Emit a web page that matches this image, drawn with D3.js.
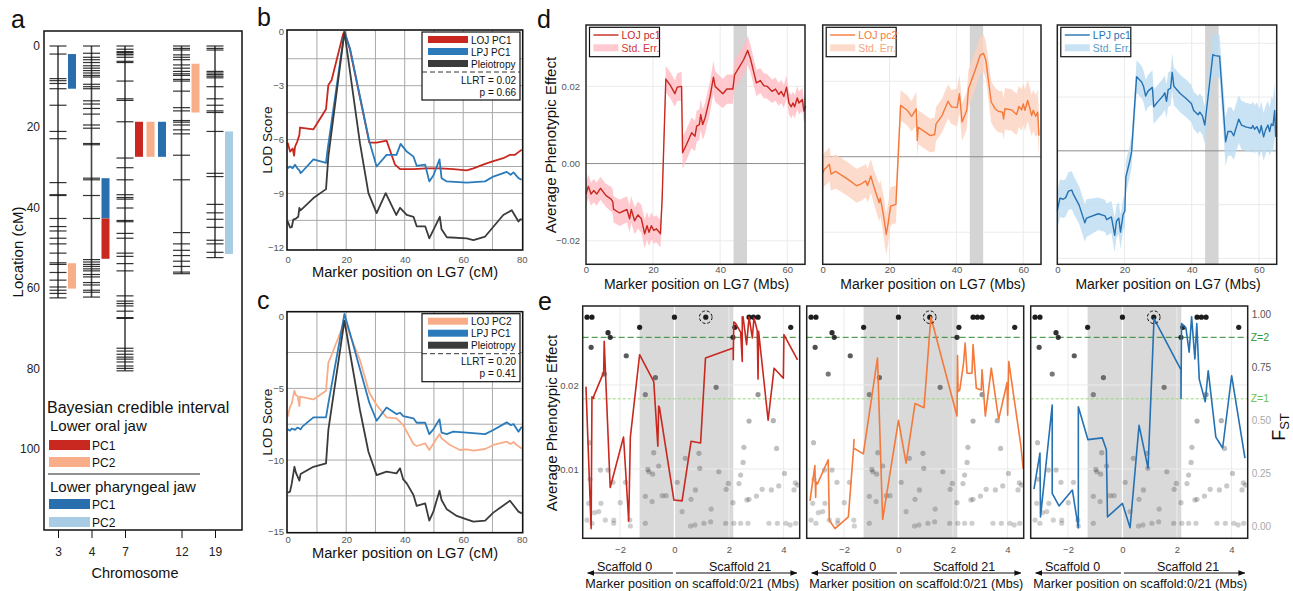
<!DOCTYPE html>
<html>
<head>
<meta charset="utf-8">
<script src="https://cdn.jsdelivr.net/npm/d3@7"></script>
<style>
body { margin: 0; background: #fff; }
</style>
</head>
<body>
<script>
const FONT = "Liberation Sans, Arial, Helvetica, sans-serif";

// ---------- panel a : linkage map ----------
const chromosomes = ["3", "4", "7", "12", "19"];
const markersChr3 = [0,2,8.1,8.6,9.3,10.6,14.7,21.2,23,33.9,36.9,37.1,42.8,44.8,45.9,47.7,49.1,51.4,53.8,54.2,56.2,58.1,59.8,60.6,61.4,62.5];
const markersChr4 = [0,1.8,2.8,3.4,4.1,4.9,5.5,6.1,6.7,7.3,7.7,9.5,10.1,10.6,13.6,14.4,15.5,16.9,19.6,20.4,24.2,24.5,32.8,33.2,37.1,42.8,53,53.6,54.2,54.7,55.3,55.8,56.7,57.3,58.7,59.3,60.6,61.1,62.3];
const markersChr7 = [0,0.8,1.4,1.6,2,2.2,2.8,3.8,4.1,8.7,13.1,13.5,18.8,27.8,30.2,33.2,36.9,37.6,38,40.2,43.3,43.6,46.5,47.7,51.4,52.2,54,55.8,62,63.3,63.9,64.5,65.8,67.4,67.6,75,75.7,76.5,77.2,77.7,78.4,79.4,80,80.6];
const markersChr12 = [0,0.6,1,2.2,2.8,3.4,4.7,5.5,6.3,6.9,7.3,8.3,8.7,11.2,15.3,16.1,18.5,18.9,19.6,20.8,21.8,27.1,33.2,46.3,49.1,50.7,52,53.4,54.7,56.1,56.5];
const markersChr19 = [0,0.6,1,6.3,6.7,7.1,7.5,7.9,10.1,13.1,14.7,16.1,16.5,21.2,31.6,32.4,39.3,41.4,43,45,48.2,49.1,51.2,52.5];
const yTicksA = [0, 20, 40, 60, 80, 100];

const intervalTraits = ["LOJ PC1", "LOJ PC2", "LPJ PC1", "LPJ PC2"];
const intervalColors = ["#c8281f", "#f8ae88", "#2a6fad", "#a8cce3"];
// chromosome, trait, start cM, end cM
const intervals = [
  ["3", "LPJ PC1", 2, 10.6],
  ["3", "LOJ PC2", 53.9, 60.2],
  ["4", "LPJ PC1", 32.8, 42.8],
  ["4", "LOJ PC1", 42.8, 52.8],
  ["7", "LOJ PC1", 18.8, 27.5],
  ["7", "LOJ PC2", 18.8, 27.5],
  ["7", "LPJ PC1", 18.8, 27.5],
  ["12", "LOJ PC2", 4.4, 16.5],
  ["19", "LPJ PC2", 21.2, 51.6]
];

// ---------- panels b, c : LOD profiles ----------
const lodB_lojPC1 = [[0,-6.17],[0.8,-6.67],[1.7,-6.5],[2.2,-6.9],[2.5,-6.4],[3.3,-6.1],[4,-5.74],[4.2,-5.33],[8.8,-5.43],[13.1,-4.31],[13.9,-2.96],[15,-2.7],[19,-0.1],[19.4,0],[21.3,-1],[27.9,-6.17],[30.4,-6.17],[33.8,-6.06],[36.7,-7.4],[38.4,-7.65],[43,-7.65],[47.5,-7.6],[52,-7.6],[56.6,-7.65],[61.2,-7.72],[63.5,-7.6],[67.5,-7.35],[70.3,-7.2],[73.7,-7.04],[76,-6.85],[77.7,-6.85],[78.9,-6.7],[80,-6.57]];
const lodB_lpjPC1 = [[0,-7.6],[0.8,-7.5],[1.7,-7.6],[2.5,-7.4],[3.3,-7.6],[4,-7.72],[4.4,-7.87],[5,-7.78],[8.8,-7.1],[13.1,-7.3],[13.6,-6.6],[19.4,0],[21.3,-0.93],[27.9,-6.1],[30.4,-7.5],[33.8,-6.85],[37.2,-6.85],[38.6,-6.24],[40.7,-6.67],[43,-6.95],[44.1,-7.46],[47,-7.4],[48.4,-8.33],[49.8,-8],[51.9,-7.1],[52.6,-8.15],[54.4,-8.33],[61.2,-8.4],[67.5,-8.33],[70.3,-8.06],[74.9,-7.8],[76.2,-7.96],[77.2,-7.83],[78.9,-8.15],[80,-8.24]];
const lodB_pleio = [[0,-10.56],[0.8,-10.9],[1.4,-10.87],[1.9,-10.46],[2.8,-10.4],[3.6,-10.3],[4,-9.8],[4.4,-9.94],[8.8,-9.26],[13.1,-8.76],[13.9,-6.94],[19.4,0],[24.7,-6.2],[27.6,-8.98],[30.4,-10.1],[33.5,-8.98],[37.1,-10.2],[38.4,-9.8],[40.7,-10.2],[43,-10.3],[44.1,-10.83],[47,-10.83],[48.4,-11.5],[52,-10.3],[52.6,-11],[54.4,-11.44],[61.2,-11.5],[63.5,-11.6],[67.5,-11.4],[73.7,-10.2],[76.6,-9.94],[78.9,-10.56],[79.5,-10.45],[80,-10.43]];
const lodC_lojPC2 = [[0,-6.98],[0.8,-6.28],[1.4,-6.05],[2.3,-5.16],[2.8,-5.47],[3.4,-5.53],[4,-6.23],[4.2,-5.58],[8.8,-5.77],[13.1,-5.16],[13.9,-3.2],[15,-2.67],[19,-0.58],[19.7,-0.35],[21.3,-1.28],[24.7,-3.02],[27.9,-5.3],[30.4,-6.16],[33.8,-7.02],[37.2,-7.09],[39.5,-7.56],[43,-8.88],[44.1,-9.02],[47,-8.84],[48.4,-9.3],[51.9,-8.19],[52.6,-8.49],[55.5,-8.95],[58.9,-9.3],[61.2,-9.26],[63.5,-9.35],[67.5,-9.23],[70.3,-8.95],[74.9,-8.72],[76.2,-8.88],[77.2,-8.74],[78.3,-8.95],[80,-9.19]];
const lodC_lpjPC1 = [[0,-7.86],[0.8,-7.95],[1.4,-7.8],[2.5,-7.9],[3.3,-7.74],[4,-7.8],[4.4,-7.86],[5,-7.67],[8.8,-7.02],[13.1,-7.02],[13.9,-6.05],[19.4,0.19],[21.3,-1.16],[27.9,-6],[30.4,-7.26],[33.8,-6.33],[37.2,-6.79],[38.4,-6.7],[39.5,-6.93],[43,-7.09],[44.1,-7.4],[47,-7.4],[48.4,-8.19],[49.8,-7.86],[51.9,-7.16],[52.6,-8.09],[54.4,-8.19],[56.6,-8.02],[61.2,-8.09],[67.5,-8.19],[70.3,-7.9],[74.9,-7.37],[76.2,-7.56],[77.2,-7.49],[78.9,-8.02],[80,-7.67]];
const lodC_pleio = [[0,-12.28],[0.8,-12.2],[1.4,-11.63],[2.3,-10.47],[2.8,-10.88],[4,-11.44],[4.4,-10.98],[8.8,-10.47],[13.1,-10.23],[13.9,-7.9],[19.4,-0.28],[24.7,-6.51],[27.6,-9.42],[30.4,-11.05],[33.8,-10.81],[37.2,-10.93],[38.4,-10.58],[39.5,-11.35],[40.7,-11.63],[43,-12.44],[44.1,-13.2],[47,-13.02],[48.4,-14.23],[49.8,-13.6],[51.9,-12.14],[52.6,-12.79],[54.4,-13.44],[57.8,-13.9],[61.2,-14.14],[63.5,-14.3],[67.5,-14.23],[70.3,-13.67],[76,-12.84],[78.9,-13.6],[80,-13.72]];
const statsB = ["LLRT = 0.02", "p = 0.66"];
const statsC = ["LLRT = 0.20", "p = 0.41"];

// ---------- panel d : average phenotypic effect along LG7 [Mb, mean, se] ----------
const effLojPc1 = [[0,-0.0079,0.0032],[0.7,-0.0059,0.003],[1.5,-0.0079,0.003],[2.3,-0.007,0.003],[3.2,-0.0079,0.003],[4.3,-0.0064,0.003],[6,-0.0083,0.003],[7.5,-0.0092,0.0032],[8,-0.0099,0.0032],[8.2,-0.0118,0.0034],[10,-0.0128,0.0034],[12.2,-0.0119,0.0034],[13,-0.0143,0.0035],[13.5,-0.0119,0.0035],[14.5,-0.0148,0.0035],[15.5,-0.0133,0.0035],[16.5,-0.0143,0.0036],[17.5,-0.0182,0.0038],[18.2,-0.0161,0.0036],[18.8,-0.0178,0.0036],[19.5,-0.0161,0.0035],[20.2,-0.0173,0.0035],[21,-0.0169,0.0035],[22.2,-0.0182,0.0035],[22.7,-0.0092,0.0036],[23.8,0.0219,0.0034],[25.2,0.0202,0.0034],[26.5,0.0181,0.0034],[27.2,0.0198,0.0036],[28.5,0.02,0.0038],[28.8,0.0028,0.0042],[30,0.005,0.004],[31.5,0.008,0.004],[32.5,0.0071,0.004],[33,0.0097,0.004],[33.8,0.0101,0.004],[34.2,0.0127,0.004],[34.8,0.0101,0.004],[35.5,0.0118,0.004],[37,0.0174,0.0042],[38,0.0224,0.0042],[38.5,0.02,0.004],[40.8,0.0181,0.0038],[42,0.0193,0.0038],[43.8,0.0193,0.0038],[44.3,0.023,0.0038],[47,0.0269,0.0038],[48.2,0.0293,0.0038],[49,0.0273,0.0036],[50.8,0.0209,0.0034],[52,0.0215,0.0032],[53,0.0202,0.0032],[54,0.02,0.0032],[55.5,0.0187,0.003],[56.5,0.0193,0.003],[57.5,0.0179,0.003],[58.2,0.0187,0.003],[59,0.0174,0.003],[59.8,0.0198,0.003],[60.5,0.0157,0.003],[61.2,0.0147,0.003],[61.7,0.0157,0.003],[62.2,0.0147,0.003],[63,0.017,0.003],[63.5,0.0157,0.003],[64.5,0.0166,0.003],[65,0.0136,0.003],[65.5,0.0149,0.003]];
const effLojPc2 = [[0,-0.0044,0.0045],[0.5,-0.0033,0.0045],[1.2,-0.0028,0.0045],[2,-0.002,0.0045],[2.5,-0.0046,0.0045],[3.8,-0.0039,0.0045],[5.5,-0.0048,0.0045],[7.9,-0.0062,0.0045],[10.1,-0.0077,0.0045],[11.7,-0.0071,0.0045],[12.9,-0.0064,0.0045],[13.4,-0.0076,0.0045],[13.9,-0.0064,0.0045],[14.4,-0.0051,0.0045],[15.4,-0.0082,0.0045],[16.9,-0.0122,0.005],[17.2,-0.011,0.005],[17.7,-0.0131,0.005],[18.3,-0.0162,0.0055],[19,-0.0206,0.0055],[19.6,-0.0175,0.0055],[20.3,-0.0131,0.005],[21.9,-0.0126,0.005],[23.3,0.0136,0.004],[25.3,0.0123,0.004],[26.6,0.0107,0.004],[28,0.0127,0.0045],[28.3,0.0043,0.0045],[28.6,0.0078,0.0045],[30.7,0.0065,0.0045],[32.2,0.0056,0.0045],[33.5,0.0059,0.0045],[33.9,0.0087,0.0045],[35.7,0.0109,0.0045],[37.5,0.0147,0.0045],[38.5,0.0132,0.0045],[40.2,0.013,0.005],[40.9,0.0167,0.005],[41.7,0.0092,0.005],[43.1,0.0123,0.005],[43.6,0.018,0.005],[45.6,0.0229,0.005],[47.1,0.0269,0.005],[48.1,0.0274,0.005],[48.8,0.0256,0.005],[50.4,0.0145,0.0055],[51.6,0.0127,0.0055],[52.6,0.012,0.0055],[53.8,0.0118,0.0055],[54.1,0.01,0.0055],[54.5,0.0127,0.0055],[56.5,0.0124,0.0055],[58,0.0112,0.0055],[58.7,0.0133,0.0055],[59.5,0.0124,0.0055],[60,0.014,0.0055],[60.5,0.0123,0.0055],[61.3,0.0149,0.0055],[62,0.0127,0.0055],[62.5,0.0109,0.0055],[63,0.0123,0.0055],[63.7,0.0107,0.0055],[64.3,0.0118,0.006],[64.7,0.0056,0.006]];
const effLpjPc1 = [[0,-0.0111,0.0035],[0.8,-0.0088,0.0035],[1.8,-0.009,0.0035],[2.5,-0.0087,0.0035],[3.3,-0.0075,0.0035],[4.3,-0.0073,0.0035],[4.8,-0.0081,0.0035],[6.5,-0.0101,0.0035],[8.2,-0.0134,0.0035],[8.7,-0.0125,0.0035],[12.2,-0.0117,0.003],[14.2,-0.0121,0.003],[14.7,-0.0128,0.003],[16.1,-0.0123,0.003],[17.1,-0.0157,0.0032],[17.6,-0.0131,0.003],[18.3,-0.0125,0.003],[18.8,-0.0151,0.0032],[19.6,-0.0118,0.003],[20.1,-0.0112,0.003],[20.4,-0.0049,0.003],[21.6,-0.0018,0.003],[22.1,-0.0002,0.003],[23.6,0.0138,0.003],[25.1,0.0128,0.003],[25.7,0.0119,0.003],[26.3,0.0102,0.003],[27,0.0111,0.003],[28.3,0.0118,0.0032],[28.7,0.0082,0.0032],[30,0.0092,0.0032],[31.3,0.0101,0.0032],[32,0.0108,0.0032],[32.5,0.0092,0.0032],[33,0.0114,0.0032],[33.7,0.0116,0.0032],[34.2,0.0146,0.0035],[34.7,0.012,0.0035],[36.5,0.0107,0.0035],[38.4,0.0097,0.0035],[39.9,0.0088,0.0035],[40.6,0.0075,0.0035],[41.9,0.0067,0.0035],[42.4,0.0072,0.0035],[43.2,0.0065,0.0035],[43.9,0.0048,0.0035],[46.3,0.0179,0.004],[47,0.0177,0.004],[48.3,0.0176,0.004],[49,0.0114,0.004],[50.1,0.0017,0.0045],[50.8,0.0036,0.0045],[51.8,0.0036,0.0045],[52.5,0.0028,0.0045],[54,0.0059,0.0045],[54.8,0.0048,0.0045],[56.3,0.0044,0.0045],[57.8,0.0042,0.0045],[58.2,0.0047,0.0045],[58.7,0.004,0.0045],[59.4,0.0045,0.0045],[60.2,0.0033,0.0045],[60.7,0.0047,0.0045],[61.4,0.0026,0.0045],[62,0.0039,0.0045],[62.7,0.0048,0.0045],[63.2,0.0036,0.0045],[63.7,0.005,0.005],[64.2,0.0047,0.005],[64.7,0.0075,0.005],[65,0.0026,0.005]];
const qtlWindowMb = [44, 48];

// ---------- panel e : scaffold 0/21 [Mb, effect] and FST points [Mb, fst] ----------
const scafLojPc1 = [[-3.25,0.0198],[-3.06,0.0029],[-3.03,0.0186],[-2.97,0.0184],[-2.96,0.0187],[-2.6,0.0215],[-2.58,0.0252],[-2.36,0.0078],[-1.87,0.0138],[-1.68,0.0038],[-1.62,0.0138],[-1.28,0.0236],[-0.76,0.0204],[-0.61,0.0127],[-0.58,0.0175],[-0.55,0.0173],[-0.02,0.0063],[0.28,0.0062],[0.61,0.0133],[0.96,0.0131],[1.14,0.0232],[2.16,0.0244],[2.16,0.023],[2.18,0.0275],[2.25,0.0273],[2.43,0.0263],[2.49,0.0228],[2.49,0.0281],[2.52,0.0281],[2.65,0.0248],[2.74,0.0281],[2.86,0.0256],[2.92,0.028],[3.04,0.0265],[3.07,0.0207],[3.09,0.0264],[3.44,0.0158],[3.66,0.022],[4,0.0208],[4.02,0.026],[4.52,0.023]];
const scafLojPc2 = [[-3.25,0.0062],[-3.07,0.0104],[-3.04,0.0066],[-3.03,0.0085],[-2.98,0.0082],[-2.58,0.0111],[-2.54,0.0039],[-2.33,0.0029],[-1.84,0.0043],[-1.66,0.0119],[-1.63,0.0135],[-1.65,0.0125],[-1.29,0.0118],[-0.77,0.0232],[-0.58,0.004],[0,0.0158],[0.28,0.0107],[0.61,0.0178],[0.94,0.0173],[1.19,0.0281],[2.15,0.0163],[2.17,0.0235],[2.19,0.0192],[2.25,0.0194],[2.39,0.0226],[2.45,0.025],[2.52,0.0214],[2.7,0.0214],[2.74,0.0248],[2.86,0.0196],[3.04,0.0194],[3.07,0.0218],[3.19,0.0163],[3.41,0.022],[3.68,0.0159],[3.99,0.0203],[4.01,0.0164],[4.05,0.0228],[4.5,0.0127],[4.58,0.01]];
const scafLpjPc1 = [[-3.25,0.0076],[-3.03,0.0119],[-3.01,0.0043],[-2.58,0.0176],[-2.58,0.0071],[-2.33,0.0056],[-1.84,0.0075],[-1.62,0.003],[-1.62,0.0174],[-1.27,0.0135],[-0.74,0.0137],[-0.59,0.0123],[-0.55,0.0043],[0,0.0059],[0.28,0.003],[0.61,0.0152],[0.94,0.0101],[1.16,0.0279],[2.15,0.0218],[2.15,0.0184],[2.17,0.0273],[2.33,0.0268],[2.45,0.0239],[2.54,0.0281],[2.66,0.0231],[2.73,0.0273],[2.82,0.0207],[3.04,0.018],[3.15,0.0217],[3.43,0.0138],[3.68,0.0125],[4.01,0.0211],[4.5,0.0113]];
const fstPoints = [[-3.21,0.985],[-3.03,0.985],[0,0.985],[1.15,0.985],[2.74,0.985],[2.9,0.985],[3.07,0.985],[-1.28,0.937],[2.22,0.937],[4.27,0.937],[-2.44,0.912],[-2.36,0.89],[2.15,0.89],[-3.06,0.843],[-1.77,0.803],[-2.58,0.717],[-0.7,0.7],[1.53,0.654],[-1.07,0.62],[3.07,0.62],[2.74,0.495],[3.63,0.497],[-3.12,0.393],[2.55,0.371],[3.75,0.366],[-0.76,0.346],[0.9,0.343],[0.4,0.319],[2.52,0.3],[-0.58,0.283],[0.93,0.272],[-0.98,0.267],[-2.72,0.264],[-2.44,0.264],[-0.94,0.256],[1.63,0.256],[4.04,0.248],[-0.8,0.245],[2.43,0.24],[-3.1,0.22],[-2.26,0.206],[-1.8,0.206],[0.1,0.206],[4.44,0.204],[1.98,0.201],[2.37,0.2],[4.52,0.193],[3.83,0.189],[1.9,0.173],[3.22,0.173],[0.77,0.17],[3.56,0.17],[4.39,0.17],[-0.45,0.143],[-0.31,0.143],[3.01,0.141],[-1.07,0.14],[0.61,0.126],[2.74,0.126],[2.66,0.123],[-0.82,0.115],[2.15,0.11],[-1.99,0.11],[-3.15,0.107],[-2.7,0.107],[1.35,0.08],[-2.78,0.068],[0.28,0.068],[-2.94,0.063],[-3.21,0.028],[-2.54,0.028],[-2.23,0.028],[-1.64,0.028],[1.33,0.02],[-3.03,0.013],[-2.23,0.013],[-1.07,0.013],[1.08,0.013],[1.88,0.013],[2.18,0.013],[2.43,0.013],[2.7,0.013],[3.47,0.013],[3.78,0.013],[4.09,0.013],[4.45,0.013],[-1.62,0],[0.59,0],[0.75,0.005],[4.25,0.005]];
const topMarkerMb = 1.15;
const scaffoldBandMb = [-1.28, 2.16];
const zThresholds = [["Z=2", 0.89], ["Z=1", 0.6]];
const fstTicks = [0, 0.25, 0.5, 0.75, 1];

const svg = d3.select("body").append("svg")
  .attr("width", 1293).attr("height", 591)
  .attr("font-family", FONT);

function txt(g, x, y, s, o = {}) {
  const t = g.append("text").attr("x", x).attr("y", y).text(s)
    .attr("font-size", o.size || 12)
    .attr("fill", o.fill || "#111")
    .attr("text-anchor", o.anchor || "start");
  if (o.rotate) t.attr("transform", `rotate(-90,${x},${y})`);
  return t;
}

function styleAxis(a, size, color) {
  a.attr("font-family", FONT).attr("font-size", size);
  a.select(".domain").remove();
  a.selectAll("text").attr("fill", color);
  a.selectAll(".tick line").attr("stroke", color);
}

// panel letters
txt(svg, 11, 28, "a", {size: 25});
txt(svg, 257, 26, "b", {size: 25});
txt(svg, 257, 309, "c", {size: 25});
txt(svg, 537, 28, "d", {size: 25});
txt(svg, 538, 310, "e", {size: 25});

///////////////////////////// panel a
function drawPanelA() {
  const g = svg.append("g");
  const markerSets = [markersChr3, markersChr4, markersChr7, markersChr12, markersChr19];
  const yA = d3.scaleLinear().domain([0, 100]).range([46, 449]);

  // slot of each interval next to its chromosome
  const slotOf = intervals.map((iv, i) => intervals.slice(0, i)
    .filter(o => o[0] === iv[0] && o[2] < iv[3] && o[3] > iv[2]).length);
  let cx = 58;
  const chrPos = [];
  chromosomes.forEach(c => {
    chrPos.push(cx);
    const n = d3.max(intervals.map((iv, i) => iv[0] === c ? slotOf[i] + 1 : 1));
    cx += 22 + 11.5 * n;
  });
  const xA = d3.scaleOrdinal().domain(chromosomes).range(chrPos);

  g.append("rect").attr("x", 44).attr("y", 31).attr("width", 198).attr("height", 499)
    .attr("fill", "none").attr("stroke", "#111").attr("stroke-width", 1.5);

  chromosomes.forEach((c, i) => {
    const m = markerSets[i];
    g.append("line").attr("x1", xA(c)).attr("x2", xA(c))
      .attr("y1", yA(0)).attr("y2", yA(d3.max(m)))
      .attr("stroke", "#444").attr("stroke-width", 1.6);
    g.append("g").selectAll("line").data(m).join("line")
      .attr("x1", xA(c) - 8.5).attr("x2", xA(c) + 8.5)
      .attr("y1", d => yA(d)).attr("y2", d => yA(d))
      .attr("stroke", "#111").attr("stroke-opacity", 0.85).attr("stroke-width", 1.2);
  });

  g.append("g").selectAll("rect").data(intervals).join("rect")
    .attr("x", (d, i) => xA(d[0]) + 10 + slotOf[i] * 11.5)
    .attr("y", d => yA(d[2]))
    .attr("width", 8)
    .attr("height", d => yA(d[3]) - yA(d[2]))
    .attr("fill", d => intervalColors[intervalTraits.indexOf(d[1])]);

  g.append("g").attr("transform", "translate(44,0)")
    .call(d3.axisLeft(yA).tickValues(yTicksA).tickSize(0).tickPadding(4))
    .call(a => styleAxis(a, 12, "#222"));
  g.append("g").attr("transform", "translate(0,530)")
    .call(d3.axisBottom(xA).tickSize(8).tickPadding(9))
    .call(a => styleAxis(a, 12, "#222"))
    .call(a => a.selectAll(".tick line").attr("stroke", "#111"));

  txt(g, 135, 578, "Chromosome", {size: 14.5, anchor: "middle"});
  txt(g, 23, 252, "Location (cM)", {size: 15, anchor: "middle", rotate: true});

  // legend
  txt(g, 47, 413, "Bayesian credible interval", {size: 16});
  txt(g, 50, 431, "Lower oral jaw", {size: 15});
  const legRows = [["LOJ PC1", 440], ["LOJ PC2", 457], ["LPJ PC1", 499], ["LPJ PC2", 517]];
  legRows.forEach(r => {
    g.append("rect").attr("x", 49).attr("y", r[1]).attr("width", 41).attr("height", 10)
      .attr("fill", intervalColors[intervalTraits.indexOf(r[0])]);
    txt(g, 92, r[1] + 9.5, r[0].slice(4), {size: 12});
  });
  g.append("line").attr("x1", 48).attr("x2", 200).attr("y1", 474).attr("y2", 474)
    .attr("stroke", "#222").attr("stroke-width", 1);
  txt(g, 50, 491.5, "Lower pharyngeal jaw", {size: 15});
}
drawPanelA();

///////////////////////////// panels b & c
function lodPanel(o) {
  const g = svg.append("g");
  const left = 287, right = 522.7;
  const x = d3.scaleLinear().domain([0, 80]).range([287.7, 521.7]);
  const y = d3.scaleLinear().domain(o.yDomain).range([o.bottom, o.top]);

  g.append("g").selectAll("line").data(d3.range(10, 80, 10)).join("line")
    .attr("x1", d => x(d)).attr("x2", d => x(d)).attr("y1", o.top).attr("y2", o.bottom)
    .attr("stroke", "#a9a9a9").attr("stroke-width", 1);
  g.append("g").selectAll("line").data(o.grid).join("line")
    .attr("x1", left).attr("x2", right).attr("y1", d => y(d)).attr("y2", d => y(d))
    .attr("stroke", "#a9a9a9").attr("stroke-width", 1);

  const line = d3.line().x(d => x(d[0])).y(d => y(d[1]));
  o.series.forEach(s => {
    g.append("path").datum(s.data).attr("d", line)
      .attr("fill", "none").attr("stroke", s.color).attr("stroke-width", 1.8)
      .attr("stroke-linejoin", "round");
  });

  g.append("rect").attr("x", left).attr("y", o.top).attr("width", right - left).attr("height", o.bottom - o.top)
    .attr("fill", "none").attr("stroke", "#111").attr("stroke-width", 1.6);

  g.append("g").attr("transform", `translate(0,${o.bottom})`)
    .call(d3.axisBottom(x).tickValues([0, 20, 40, 60, 80]).tickSize(0).tickPadding(o.pad))
    .call(a => styleAxis(a, 9.5, "#555"));
  g.append("g").attr("transform", `translate(${left},0)`)
    .call(d3.axisLeft(y).tickValues(o.ticks).tickSize(0).tickPadding(3))
    .call(a => styleAxis(a, 9.5, "#555"));

  txt(g, 405, o.bottom + o.titleOff, "Marker position on LG7 (cM)", {size: 14.7, anchor: "middle"});
  txt(g, 272, (o.top + o.bottom) / 2, "LOD Score", {size: 13.5, anchor: "middle", rotate: true});

  // legend
  const lx = 422, ly = o.top + 2;
  g.append("rect").attr("x", lx).attr("y", ly).attr("width", 98).attr("height", 68)
    .attr("fill", "#fff").attr("stroke", "#111").attr("stroke-width", 1.2);
  o.series.forEach((s, i) => {
    g.append("rect").attr("x", lx + 6).attr("y", ly + 4 + i * 12).attr("width", 40).attr("height", 7)
      .attr("fill", s.color);
    txt(g, lx + 49, ly + 11.5 + i * 12, s.name, {size: 10});
  });
  g.append("line").attr("x1", lx).attr("x2", lx + 98).attr("y1", ly + 40).attr("y2", ly + 40)
    .attr("stroke", "#333").attr("stroke-dasharray", "5,3");
  txt(g, lx + 94, ly + 51.5, o.stats[0], {size: 10, anchor: "end"});
  txt(g, lx + 94, ly + 63.5, o.stats[1], {size: 10, anchor: "end"});
}

lodPanel({
  top: 30, bottom: 250, yDomain: [-12.15, 0.1], grid: d3.range(-10.5, 0, 1.5),
  ticks: [0, -3, -6, -9, -12], pad: 6, titleOff: 27, stats: statsB,
  series: [
    {name: "LOJ PC1", color: "#c8281f", data: lodB_lojPC1},
    {name: "LPJ PC1", color: "#2b7bba", data: lodB_lpjPC1},
    {name: "Pleiotropy", color: "#3b3b3b", data: lodB_pleio}
  ]
});
lodPanel({
  top: 311.7, bottom: 532.7, yDomain: [-15.07, 0.35], grid: d3.range(-12.5, 0, 2.5),
  ticks: [0, -5, -10, -15], pad: 3.5, titleOff: 25, stats: statsC,
  series: [
    {name: "LOJ PC2", color: "#f8ad88", data: lodC_lojPC2},
    {name: "LPJ PC1", color: "#2b7bba", data: lodC_lpjPC1},
    {name: "Pleiotropy", color: "#3b3b3b", data: lodC_pleio}
  ]
});

///////////////////////////// panel d
function effectPanel(o) {
  const g = svg.append("g");
  const top = 25, bottom = 264.3;
  const x = d3.scaleLinear().domain([0, 65.3]).range([o.x0, o.x1]);
  const y = d3.scaleLinear().domain(o.yDomain).range([bottom, top]);

  g.append("g").selectAll("line").data([20, 40, 60]).join("line")
    .attr("x1", d => x(d)).attr("x2", d => x(d)).attr("y1", top).attr("y2", bottom)
    .attr("stroke", "#ebebeb").attr("stroke-width", 1);
  g.append("g").selectAll("line").data(o.grid).join("line")
    .attr("x1", o.x0).attr("x2", o.x1).attr("y1", d => y(d)).attr("y2", d => y(d))
    .attr("stroke", "#ebebeb").attr("stroke-width", 1);
  g.append("rect").attr("x", x(qtlWindowMb[0])).attr("y", top)
    .attr("width", x(qtlWindowMb[1]) - x(qtlWindowMb[0])).attr("height", bottom - top)
    .attr("fill", "#d4d4d4");
  g.append("line").attr("x1", o.x0).attr("x2", o.x1).attr("y1", y(0)).attr("y2", y(0))
    .attr("stroke", "#8c8c8c").attr("stroke-width", 1);

  const area = d3.area().x(d => x(d[0])).y0(d => y(d[1] - d[2])).y1(d => y(d[1] + d[2]));
  g.append("path").datum(o.data).attr("d", area).attr("fill", o.ribbon).attr("fill-opacity", 0.8);
  const line = d3.line().x(d => x(d[0])).y(d => y(d[1]));
  g.append("path").datum(o.data).attr("d", line).attr("fill", "none")
    .attr("stroke", o.color).attr("stroke-width", 1.4).attr("stroke-linejoin", "round");

  g.append("rect").attr("x", o.x0).attr("y", top).attr("width", o.x1 - o.x0).attr("height", bottom - top)
    .attr("fill", "none").attr("stroke", "#222").attr("stroke-width", 1.5);

  g.append("g").attr("transform", `translate(0,${bottom})`)
    .call(d3.axisBottom(x).tickValues([0, 20, 40, 60]).tickSize(0).tickPadding(1.5))
    .call(a => styleAxis(a, 9.5, "#555"));
  if (o.yTicks) {
    g.append("g").attr("transform", `translate(${o.x0},0)`)
      .call(d3.axisLeft(y).tickValues(o.yTicks).tickSize(0).tickPadding(6).tickFormat(d3.format(".2f")))
      .call(a => styleAxis(a, 9.5, "#555"));
    txt(g, 556, 145, "Average Phenotypic Effect", {size: 15, anchor: "middle", rotate: true});
  }
  txt(g, (o.x0 + o.x1) / 2 + 1, 289, "Marker position on LG7 (Mbs)", {size: 14, anchor: "middle"});

  // legend
  const lx = o.x0 + 3.5, ly = 27.3;
  g.append("rect").attr("x", lx).attr("y", ly).attr("width", 70).attr("height", 29.4)
    .attr("fill", "#fff").attr("stroke", "#111").attr("stroke-width", 1.2);
  g.append("line").attr("x1", lx + 4).attr("x2", lx + 29).attr("y1", ly + 7.7).attr("y2", ly + 7.7)
    .attr("stroke", o.color).attr("stroke-width", 1.4);
  g.append("rect").attr("x", lx + 4).attr("y", ly + 17).attr("width", 25).attr("height", 7)
    .attr("fill", o.ribbon).attr("fill-opacity", 0.8);
  txt(g, lx + 32, ly + 11.5, o.name, {size: 10.5, fill: o.color});
  txt(g, lx + 32, ly + 24.5, "Std. Err.", {size: 10.5, fill: o.textRibbon});
}

effectPanel({x0: 586, x1: 805, yDomain: [-0.0261, 0.0359], grid: [-0.02, 0.02], yTicks: [-0.02, 0, 0.02],
  data: effLojPc1, color: "#c8281f", ribbon: "#ffbcc3", textRibbon: "#d2383a", name: "LOJ pc1"});
effectPanel({x0: 822.7, x1: 1041, yDomain: [-0.0285, 0.0349], grid: [-0.02, 0.02],
  data: effLojPc2, color: "#f4793a", ribbon: "#fdd2bf", textRibbon: "#f7a47e", name: "LOJ pc2"});
effectPanel({x0: 1057.3, x1: 1276.7, yDomain: [-0.0211, 0.0234], grid: [-0.02, -0.01, 0.01, 0.02],
  data: effLpjPc1, color: "#2571b2", ribbon: "#bcdcf3", textRibbon: "#5a98cc", name: "LPJ pc1"});

///////////////////////////// panel e
const eTop = 306, eBottom = 538.3, eWidth = 217;
const yE = d3.scaleLinear().domain([0.00175, 0.0294]).range([eBottom, eTop]);
const yF = d3.scaleLinear().domain([0, 1]).range([526, 314]);
const fstAlpha = d3.scaleLinear().domain([0, 0.45, 0.6, 0.85, 0.95]).range([0.2, 0.27, 0.42, 0.75, 0.95]).clamp(true);

function scaffoldPanel(o) {
  const g = svg.append("g");
  const x0 = o.x0, x1 = o.x0 + eWidth;
  const x = d3.scaleLinear().domain([-3.37, 4.6]).range([x0, x1]);

  g.append("rect").attr("x", x(scaffoldBandMb[0])).attr("y", eTop)
    .attr("width", x(scaffoldBandMb[1]) - x(scaffoldBandMb[0])).attr("height", eBottom - eTop)
    .attr("fill", "#d9d9d9");
  g.append("g").selectAll("line").data([-2, 2, 4]).join("line")
    .attr("x1", d => x(d)).attr("x2", d => x(d)).attr("y1", eTop).attr("y2", eBottom)
    .attr("stroke", "#ebebeb");
  g.append("g").selectAll("line").data([0.01, 0.02]).join("line")
    .attr("x1", x0).attr("x2", x1).attr("y1", d => yE(d)).attr("y2", d => yE(d))
    .attr("stroke", "#ebebeb");
  g.append("line").attr("x1", x(0)).attr("x2", x(0)).attr("y1", eTop).attr("y2", eBottom)
    .attr("stroke", "#fff").attr("stroke-width", 1.3);

  zThresholds.forEach((z, i) => {
    g.append("line").attr("x1", x0).attr("x2", x1).attr("y1", yF(z[1])).attr("y2", yF(z[1]))
      .attr("stroke", i === 0 ? "#2f8a2f" : "#9ad77a").attr("stroke-width", 1)
      .attr("stroke-dasharray", i === 0 ? "6,3" : "3,2");
  });

  g.append("g").selectAll("circle").data(fstPoints).join("circle")
    .attr("cx", d => x(d[0])).attr("cy", d => yF(d[1])).attr("r", 2.6)
    .attr("fill", "#111").attr("fill-opacity", d => fstAlpha(d[1]));

  const line = d3.line().x(d => x(d[0])).y(d => yE(d[1]));
  g.append("path").datum(o.data).attr("d", line).attr("fill", "none")
    .attr("stroke", o.color).attr("stroke-width", 1.6).attr("stroke-linejoin", "round");

  g.append("circle").attr("cx", x(topMarkerMb)).attr("cy", yF(0.985)).attr("r", 6.3)
    .attr("fill", "none").attr("stroke", "#111").attr("stroke-width", 1).attr("stroke-dasharray", "3,2");

  g.append("rect").attr("x", x0).attr("y", eTop).attr("width", eWidth).attr("height", eBottom - eTop)
    .attr("fill", "none").attr("stroke", "#222").attr("stroke-width", 1.5);

  g.append("g").attr("transform", `translate(0,${eBottom})`)
    .call(d3.axisBottom(x).tickValues([-2, 0, 2, 4]).tickSize(0).tickPadding(8))
    .call(a => styleAxis(a, 9.5, "#555"));

  if (o.left) {
    g.append("g").attr("transform", `translate(${x0},0)`)
      .call(d3.axisLeft(yE).tickValues([0.01, 0.02]).tickSize(0).tickPadding(4).tickFormat(d3.format(".2f")))
      .call(a => styleAxis(a, 9.5, "#555"));
    txt(g, 557, 423, "Average Phenotypic Effect", {size: 15, anchor: "middle", rotate: true});
  }
  if (o.right) {
    g.append("g").attr("transform", `translate(${x1},0)`)
      .call(d3.axisRight(yF).tickValues(fstTicks).tickSize(0).tickPadding(4).tickFormat(d3.format(".2f")))
      .call(a => styleAxis(a, 10, "#aaa"))
      .call(a => a.selectAll("text").attr("fill", d => d >= 0.75 ? "#555" : "#aaa"));
    zThresholds.forEach((z, i) => {
      txt(g, x1 + 3, yF(z[1]) + 3.5, z[0], {size: 10.5, fill: i === 0 ? "#2f9a2f" : "#6cc24a"});
    });
    const f = g.append("text").attr("transform", `translate(1285,427) rotate(-90)`)
      .attr("text-anchor", "middle").attr("font-size", 18).attr("fill", "#111");
    f.append("tspan").text("F");
    f.append("tspan").text("ST").attr("font-size", 13).attr("dy", 4);
  }

  // scaffold arrows
  const ay = 573;
  g.append("line").attr("x1", x(0) - 1.5).attr("x2", x0 + 5).attr("y1", ay).attr("y2", ay)
    .attr("stroke", "#111").attr("stroke-width", 1).attr("marker-end", "url(#arrowHead)");
  g.append("line").attr("x1", x(0) + 1.5).attr("x2", x1 - 3).attr("y1", ay).attr("y2", ay)
    .attr("stroke", "#111").attr("stroke-width", 1).attr("marker-end", "url(#arrowHead)");
  txt(g, (x0 + x(0)) / 2 - 4, 570.5, "Scaffold 0", {size: 12.5, anchor: "middle"});
  txt(g, (x(0) + x1) / 2 + 3, 570.5, "Scaffold 21", {size: 12.5, anchor: "middle"});
  txt(g, (x0 + x1) / 2 + 1, 588, "Marker position on scaffold:0/21 (Mbs)", {size: 12.6, anchor: "middle"});
}

svg.append("defs").append("marker").attr("id", "arrowHead")
  .attr("viewBox", "0 0 10 10").attr("refX", 9).attr("refY", 5)
  .attr("markerWidth", 7).attr("markerHeight", 7).attr("orient", "auto-start-reverse")
  .append("path").attr("d", "M0,1 L10,5 L0,9 z").attr("fill", "#111");

scaffoldPanel({x0: 582.7, data: scafLojPc1, color: "#c8281f", left: true});
scaffoldPanel({x0: 806.7, data: scafLojPc2, color: "#f4793a"});
scaffoldPanel({x0: 1030.7, data: scafLpjPc1, color: "#2571b2", right: true});
</script>
</body>
</html>
